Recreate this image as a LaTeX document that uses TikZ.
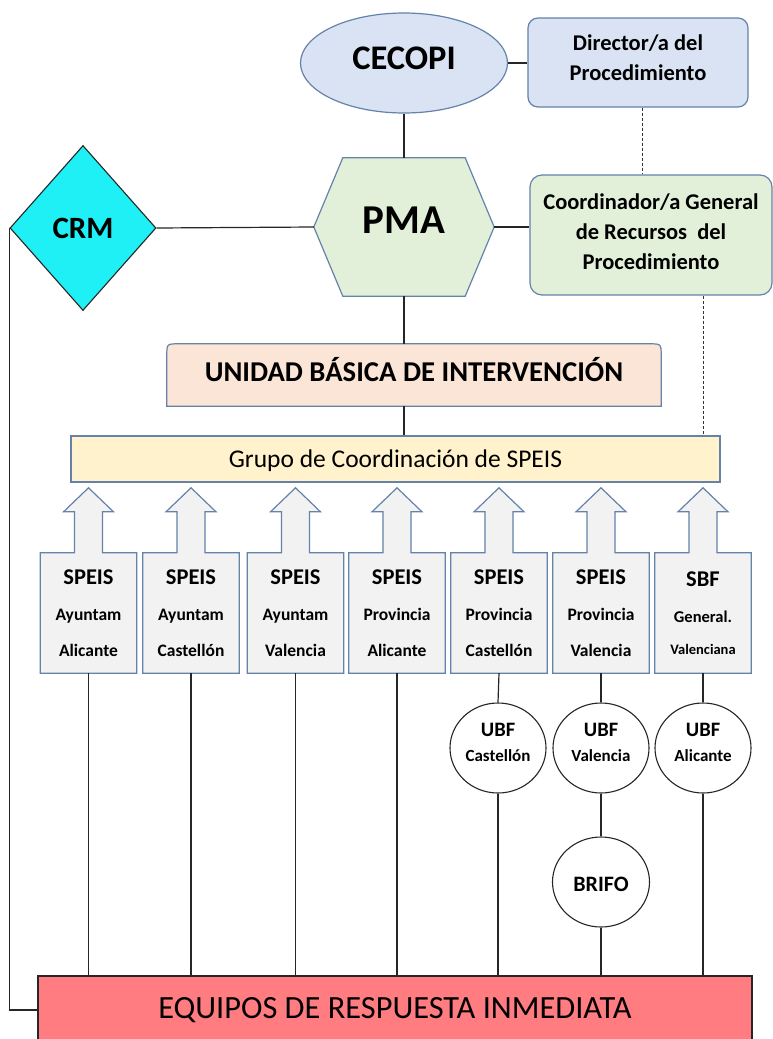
\documentclass[tikz,border=0pt]{standalone}
\usepackage{fontspec}
\setmainfont{Carlito}
\usetikzlibrary{shapes.geometric,calc}
\definecolor{bluef}{RGB}{218,227,243}
\definecolor{greenf}{RGB}{226,240,217}
\definecolor{peachf}{RGB}{251,229,214}
\definecolor{yellowf}{RGB}{255,242,204}
\definecolor{greyf}{RGB}{242,242,242}
\definecolor{crmc}{RGB}{30,240,245}
\definecolor{equc}{RGB}{255,124,128}
\definecolor{outl}{RGB}{100,130,170}
\pgfdeclarelayer{bg}
\pgfdeclarelayer{paper}
\pgfsetlayers{paper,bg,main}
\begin{document}
\begin{tikzpicture}[x=1pt,y=-1pt,
  conn/.style={draw=black!85, line width=1.2pt},
  dsh/.style={draw=black!80, line width=1pt, dash pattern=on 3pt off 2pt},
  ol/.style={draw=outl, line width=1.2pt},
  spbox/.style={minimum width=96pt, minimum height=120pt, inner sep=0pt, align=center,
    font=\fontsize{17.5}{36}\selectfont\bfseries},
  ubf/.style={ellipse, draw=black!85, line width=1.1pt, fill=white, minimum width=96pt,
    minimum height=90pt, inner sep=0pt, align=center, text depth=12pt,
    font=\fontsize{17}{25}\selectfont\bfseries}
]
\useasboundingbox (0,0) rectangle (773,1039);
\begin{pgfonlayer}{paper}
\fill[white] (0,0) rectangle (773,1039);
\end{pgfonlayer}

% top
\node[ol, ellipse, fill=bluef, minimum width=207pt, minimum height=100pt, inner sep=0pt,
  text height=22pt, text depth=10pt, font=\fontsize{34.5}{40}\selectfont\bfseries] (cecopi) at (404,63) {CECOPI};
\node[ol, rounded corners=10pt, fill=bluef, minimum width=220pt, minimum height=89pt, inner sep=0pt,
  align=center, text depth=9pt, font=\fontsize{22.5}{30}\selectfont\bfseries] (dir) at (638,62.5) {Director/a del\\Procedimiento};

\node[minimum width=180pt, minimum height=138pt, inner sep=0pt, text height=26pt, text depth=14pt,
  font=\fontsize{41}{44}\selectfont\bfseries] (pma) at (404,227) {PMA};
\begin{pgfonlayer}{bg}
\draw[ol, fill=greenf] (pma.west) -- ([xshift=29pt]pma.north west) -- ([xshift=-29pt]pma.north east)
  -- (pma.east) -- ([xshift=-29pt]pma.south east) -- ([xshift=29pt]pma.south west) -- cycle;
\end{pgfonlayer}

\node[diamond, draw=black!85, line width=1.1pt, fill=crmc, minimum width=146pt, minimum height=165pt,
  inner sep=0pt, text height=20pt, text depth=0pt, font=\fontsize{31}{36}\selectfont\bfseries] (crm) at (83,228) {CRM};

\node[ol, rounded corners=12pt, fill=greenf, minimum width=242pt, minimum height=120pt, inner sep=0pt,
  align=center, text depth=7pt, font=\fontsize{22.5}{30}\selectfont\bfseries] (coord) at (651,235)
  {Coordinador/a General\\de Recursos\ \ del\\Procedimiento};

% UBI
\node[minimum width=494pt, minimum height=62pt, inner sep=0pt, text height=18pt, text depth=6pt,
  font=\fontsize{28.7}{32}\selectfont\bfseries] (ubi) at (414,375) {UNIDAD BÁSICA DE INTERVENCIÓN};
\begin{pgfonlayer}{bg}
\draw[ol, fill=peachf] (ubi.south west) -- ([yshift=-12pt]ubi.north west)
  .. controls (ubi.north west) .. ([xshift=12pt]ubi.north west)
  -- ([xshift=-12pt]ubi.north east) .. controls (ubi.north east) .. ([yshift=-12pt]ubi.north east)
  -- (ubi.south east) -- cycle;
\end{pgfonlayer}

% Grupo
\node[ol, fill=yellowf, minimum width=649pt, minimum height=46pt, inner sep=0pt, text height=16pt,
  text depth=0pt, font=\fontsize{25.5}{28}\selectfont] (grupo) at (395.5,459) {Grupo de Coordinación de SPEIS};

% SPEIS boxes
\foreach \i/\x/\a/\b in {1/88.5/Ayuntam/Alicante, 2/191/Ayuntam/Castellón, 3/295.5/Ayuntam/Valencia,
  4/397/Provincia/Alicante, 5/499/Provincia/Castellón, 6/601/Provincia/Valencia}{
  \node[spbox] (s\i) at (\x,613) {{\fontsize{22.5}{36}\selectfont SPEIS}\\\a\\\b};
}
\node[spbox] (s7) at (703,613) {{\fontsize{22.5}{36}\selectfont SBF}\\{\fontsize{16.5}{36}\selectfont General.}\\[-4pt]{\fontsize{14.5}{36}\selectfont Valenciana}};
\begin{pgfonlayer}{bg}
\foreach \i in {1,...,7}{
  \draw[ol, fill=greyf] (s\i.south west) -- (s\i.north west) -- ([xshift=-14pt]s\i.north)
    -- ++(0,-41) -- ++(-11,0) -- ++(25,-24) -- ++(25,24) -- ++(-11,0) -- ++(0,41)
    -- (s\i.north east) -- (s\i.south east) -- cycle;
}
\end{pgfonlayer}

% UBF and BRIFO
\node[ubf] (u1) at (498,748) {{\fontsize{20.5}{25}\selectfont UBF}\\Castellón};
\node[ubf] (u2) at (601,748) {{\fontsize{20.5}{25}\selectfont UBF}\\Valencia};
\node[ubf] (u3) at (703,748) {{\fontsize{20.5}{25}\selectfont UBF}\\Alicante};
\node[ellipse, draw=black!85, line width=1.1pt, fill=white, minimum width=97pt, minimum height=90pt,
  inner sep=0pt, text height=22pt, text depth=4pt, font=\fontsize{22}{25}\selectfont\bfseries] (brifo) at (601,882) {BRIFO};

% EQUIPOS
\node[draw=black!85, line width=1.1pt, fill=equc, minimum width=714pt, minimum height=68pt, inner sep=0pt,
  text height=20.5pt, text depth=4.5pt, font=\fontsize{32.4}{36}\selectfont] (equ) at (395,1010) {EQUIPOS DE RESPUESTA INMEDIATA};

% connectors
\draw[conn] (cecopi.east) -- (cecopi.east -| dir.west);
\draw[conn] (cecopi.south) -- (pma.north);
\draw[dsh] ([xshift=4pt]dir.south) -- ([xshift=4pt]dir.south |- coord.north);
\draw[conn] (crm.east) -- (pma.west);
\draw[conn] (pma.east) -- (pma.east -| coord.west);
\draw[conn] (pma.south) -- (pma.south |- ubi.north);
\draw[conn] (ubi.south -| pma.south) -- (grupo.north -| pma.south);
\draw[dsh] (coord.south -| s7.south) -- (grupo.north -| s7.south);
\draw[conn] (crm.west) |- (equ.west);
\foreach \i in {1,...,4}{
  \draw[conn] (s\i.south) -- (s\i.south |- equ.north);
}
\draw[conn] (s5.south) -- (u1.north);
\draw[conn] (u1.south) -- (u1.south |- equ.north);
\draw[conn] (s6.south) -- (u2.north);
\draw[conn] (u2.south) -- (brifo.north);
\draw[conn] (brifo.south) -- (brifo.south |- equ.north);
\draw[conn] (s7.south) -- (u3.north);
\draw[conn] (u3.south) -- (u3.south |- equ.north);
\end{tikzpicture}
\end{document}
